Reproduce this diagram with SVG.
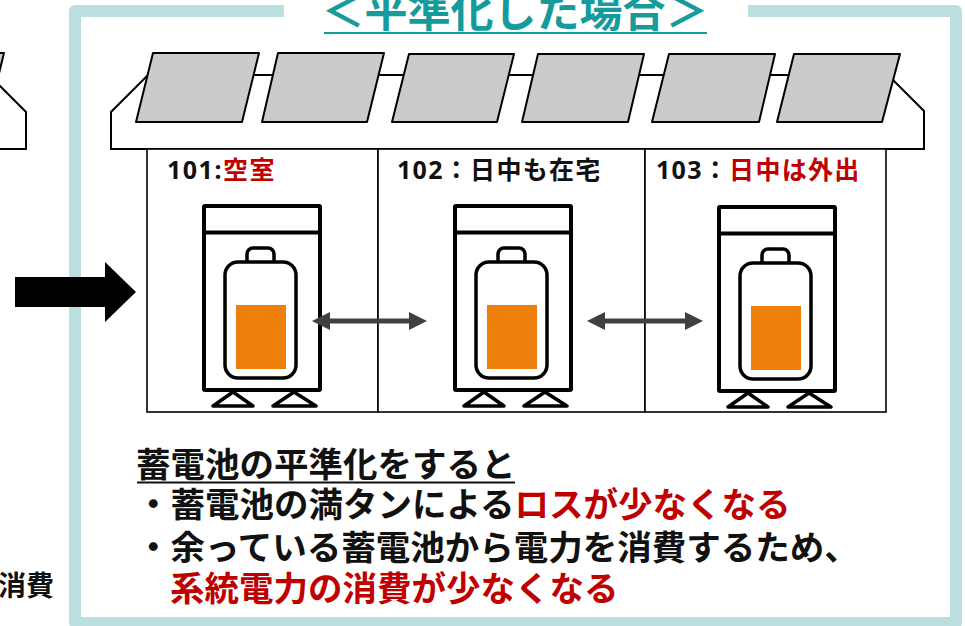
<svg xmlns="http://www.w3.org/2000/svg" width="965" height="626" viewBox="0 0 965 626">
  <style>
    .jp { font-family: "Noto Sans", "Noto Sans CJK JP", sans-serif; font-weight: bold; }
    .ink { fill: #111111; }
    .red { fill: #C00000; }
    .panel { fill: #CBCBCB; stroke: #000; stroke-width: 2; stroke-linejoin: round; }
    .roof { fill: #FFFFFF; stroke: #000; stroke-width: 2; stroke-linejoin: miter; }
    .room { fill: #FFFFFF; stroke: #000; stroke-width: 1.6; }
    .thick { fill: #FFFFFF; stroke: #000; stroke-width: 4; stroke-linejoin: round; }
    .cell { fill: #FFFFFF; stroke: #000; stroke-width: 3.5; stroke-linejoin: round; }
    .charge { fill: #EF7F0D; }
    .flow { stroke: #404040; stroke-width: 5; fill: none; marker-start: url(#head); marker-end: url(#head); }
  </style>
  <defs>
    <marker id="head" viewBox="0 0 18 18" markerUnits="userSpaceOnUse" markerWidth="18" markerHeight="18" refX="12" refY="9" orient="auto-start-reverse">
      <path d="M0,0 L18,9 L0,18 Z" fill="#404040"/>
    </marker>
    <!-- storage unit: cabinet, battery, charge level and feet -->
    <g id="unit">
      <polygon class="cell" points="9,200 29,186 49,200"/>
      <polygon class="cell" points="69,200 90,186 112,200"/>
      <rect class="thick" x="0" y="0" width="116" height="184" rx="1"/>
      <line x1="0" y1="26.5" x2="116" y2="26.5" stroke="#000" stroke-width="4"/>
      <rect class="cell" x="43" y="42" width="27" height="22" rx="6"/>
      <rect class="cell" x="21" y="56" width="71" height="116" rx="13"/>
      <rect class="charge" x="32" y="99" width="50" height="64"/>
    </g>
  </defs>

  <!-- outer frame, open at the top for the heading -->
  <g id="frame">
    <path d="M284,11 H75 V623 H956 V11 H748" fill="none" stroke="#BBDEE0" stroke-width="12" stroke-linejoin="round"/>
  </g>

  <!-- heading -->
  <g id="title">
    <text class="jp" x="515" y="27" font-size="43" text-anchor="middle" fill="#159B9B">＜平準化した場合＞</text>
    <line x1="324" y1="33" x2="707" y2="33" stroke="#159B9B" stroke-width="2"/>
  </g>

  <!-- neighbouring building, cut at the left edge -->
  <g id="house-left">
    <polygon class="roof" points="-200,75 -11,75 26,112 26,149 -200,149"/>
    <polygon class="panel" points="-102,53 4,53 -13,122 -119,122"/>
    <text class="jp ink" x="54" y="596" font-size="28" text-anchor="end">消費</text>
  </g>

  <!-- roof with solar panels -->
  <g id="roof">
    <polygon class="roof" points="111,149 111,112 148,75 888,75 924,111 924,149"/>
    <polygon class="panel" points="153,53 259,53 242,122 136,122"/>
    <polygon class="panel" points="278,53 384,53 367,122 262,122"/>
    <polygon class="panel" points="409,54 514,54 497,122 392,122"/>
    <polygon class="panel" points="538,54 644,54 628,122 522,122"/>
    <polygon class="panel" points="669,54 775,54 759,122 652,122"/>
    <polygon class="panel" points="794,54 900,54 882,122 777,122"/>
  </g>

  <!-- apartments -->
  <g id="room-101">
    <rect class="room" x="147" y="149" width="231" height="263"/>
    <text class="jp" x="167" y="179" font-size="25" letter-spacing="1.5"><tspan class="ink">101:</tspan><tspan class="red">空室</tspan></text>
    <use href="#unit" x="204" y="206"/>
  </g>
  <g id="room-102">
    <rect class="room" x="378" y="149" width="267" height="263"/>
    <text class="jp ink" x="397" y="179" font-size="25" letter-spacing="1.3">102：日中も在宅</text>
    <use href="#unit" x="455" y="206"/>
  </g>
  <g id="room-103">
    <rect class="room" x="645" y="149" width="241" height="263"/>
    <text class="jp" x="656" y="179" font-size="25" letter-spacing="1.3"><tspan class="ink">103：</tspan><tspan class="red">日中は外出</tspan></text>
    <use href="#unit" x="719" y="207"/>
  </g>

  <!-- power exchange between units and the transition arrow -->
  <g id="connectors">
    <line class="flow" x1="318" y1="321" x2="421" y2="321"/>
    <line class="flow" x1="593" y1="321" x2="697" y2="321"/>
    <polygon points="15,277 105,277 105,262 136,292 105,322 105,307 15,307" fill="#000"/>
  </g>

  <!-- summary -->
  <g id="summary" class="jp" font-size="34.5">
    <text class="ink" x="136" y="477">蓄電池の平準化をすると</text>
    <line x1="137" y1="482.5" x2="515" y2="482.5" stroke="#111" stroke-width="2"/>
    <text x="136" y="517"><tspan class="ink">・蓄電池の満タンによる</tspan><tspan class="red">ロスが少なくなる</tspan></text>
    <text class="ink" x="136" y="560">・余っている蓄電池から電力を消費するため、</text>
    <text class="red" x="170" y="601">系統電力の消費が少なくなる</text>
  </g>
</svg>
